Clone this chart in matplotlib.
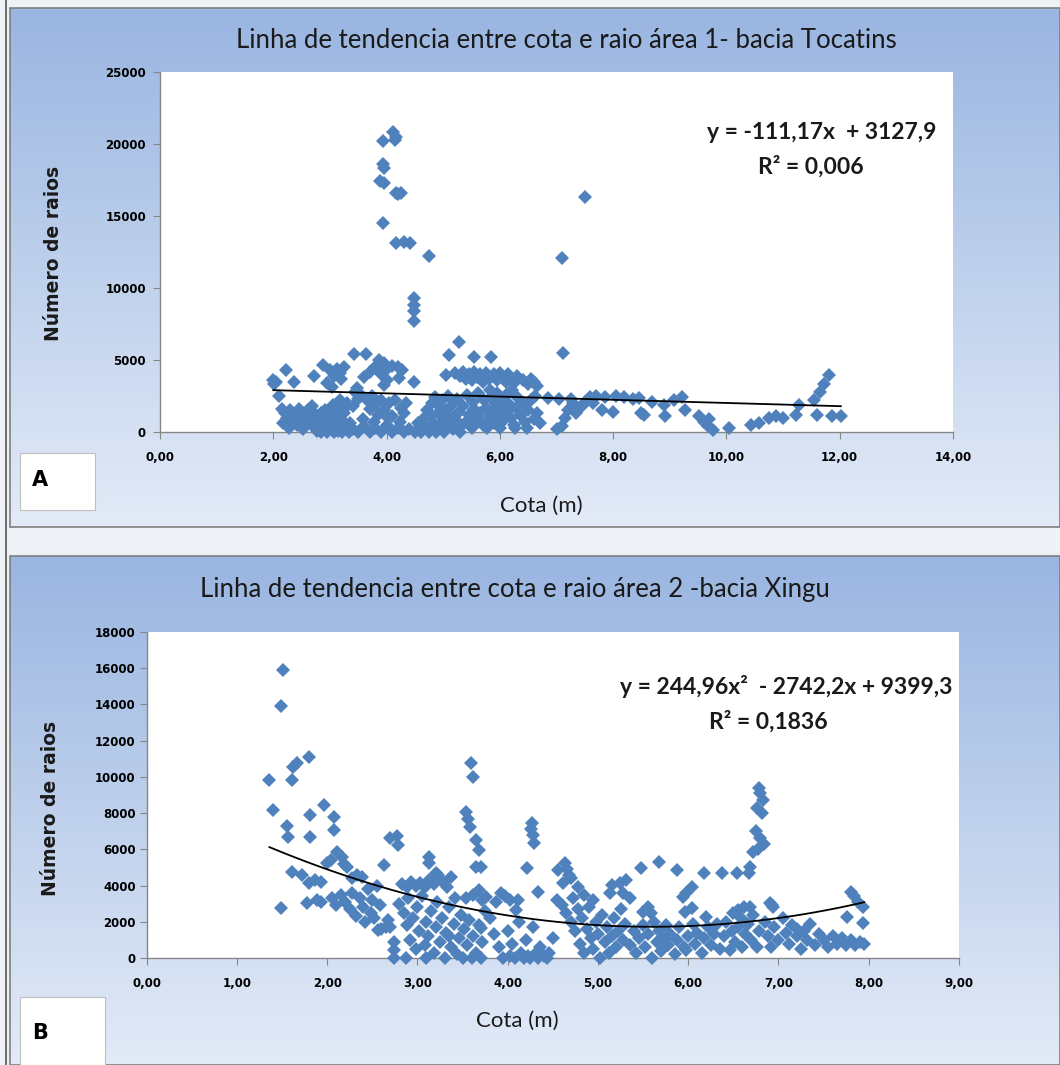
import numpy as np
import matplotlib
matplotlib.use("Agg")
import matplotlib.pyplot as plt
from matplotlib.patches import Rectangle

# ---- painel A (bacia Tocantins): cota (m) x numero de raios
xa = [3.93, 4.12, 4.17, 4.15, 3.93, 3.95, 3.88, 3.95, 4.17, 4.25, 4.20, 3.93, 4.17, 4.30, 4.42, 4.75,
      4.48, 4.48, 4.48, 4.48, 7.51, 7.10, 7.11,
      2.00, 2.02, 2.05, 2.10, 2.22, 2.36, 2.72, 2.87, 2.95, 3.00, 3.04, 3.08, 3.12, 3.18, 3.25, 3.20,
      3.43, 3.63, 3.60, 3.48, 3.87, 3.96, 4.01, 4.10, 4.20, 4.28, 4.22, 4.01, 3.95, 4.49, 3.70, 3.80, 3.90,
      5.28, 5.11, 5.55, 5.85, 5.05,
      5.20, 5.30, 5.35, 5.40, 5.45, 5.50, 5.55, 5.60, 5.65, 5.70, 5.75, 5.80, 5.90, 5.95, 6.00, 6.05,
      6.10, 6.15, 6.20, 6.25, 6.30, 6.40, 6.50, 6.55, 6.60, 6.65,
      2.15, 2.20, 2.25, 2.30, 2.35, 2.40, 2.45, 2.50, 2.55, 2.60, 2.62, 2.65, 2.70, 2.72, 2.75, 2.78,
      2.80, 2.82, 2.85, 2.88, 2.90, 2.92, 2.95, 2.97, 3.00, 3.02, 3.05, 3.07, 3.10, 3.12, 3.15, 3.17,
      3.20, 3.22, 3.25, 3.28, 3.30, 3.33,
      3.55, 3.65, 3.75, 3.70, 3.80, 3.85, 3.90, 3.95, 4.05, 4.10, 4.15, 4.25, 4.30, 4.35, 3.45, 3.50, 3.40,
      3.40, 3.50, 3.60, 3.70, 3.80, 3.90, 4.00, 4.10, 4.20, 4.30, 4.40, 4.50, 4.55, 4.60,
      4.65, 4.70, 4.72, 4.75, 4.78, 4.80, 4.82, 4.85, 4.88, 4.90, 4.92, 4.95, 4.98, 5.00, 5.02, 5.05,
      5.08, 5.10, 5.12, 5.15, 5.18,
      5.22, 5.25, 5.28, 5.30, 5.35, 5.40, 5.42, 5.45, 5.50, 5.52, 5.55, 5.60, 5.62, 5.65, 5.70, 5.72,
      5.75, 5.80, 5.82, 5.85, 5.88, 5.90, 5.92, 5.95, 5.98, 6.00, 6.02, 6.05, 6.08, 6.10, 6.12, 6.15,
      6.20, 6.22, 6.25, 6.28, 6.30, 6.35, 6.40, 6.45, 6.50, 6.55, 6.60, 6.65, 6.70,
      6.85, 7.05, 7.25, 7.15, 7.20, 7.30, 7.35, 7.45, 7.50, 7.09, 7.60, 7.70, 7.80, 7.85, 8.00, 8.05,
      8.20, 8.35, 8.45, 8.50, 7.65, 7.00,
      8.54, 8.68, 8.89, 8.92, 9.07, 9.22, 9.27, 9.51, 9.60, 9.68, 9.77, 10.04, 10.43, 10.57, 10.75,
      10.87, 10.99, 11.22, 11.28, 11.55, 11.65, 11.72, 11.81, 11.60, 11.87, 12.02, 9.70,
      2.18, 2.28, 2.42, 2.52, 2.68, 2.84, 2.98, 3.14, 3.26, 3.36, 3.58, 3.78, 4.02, 4.24, 4.62, 4.84,
      5.06, 5.32, 5.58, 5.78, 6.04, 6.26, 6.48, 6.62]
ya = [20200, 20800, 20500, 20300, 18600, 18300, 17400, 17300, 16600, 16600, 16500, 14500, 13100, 13200, 13100, 12200,
      9300, 8800, 8400, 7700, 16300, 12100, 5500,
      3600, 3300, 3500, 2500, 4300, 3500, 3900, 4650, 3400, 4300, 3150, 3900, 4400, 4100, 4500, 3700,
      5450, 5450, 3840, 3040, 5000, 4770, 4400, 4600, 4500, 4300, 3730, 3600, 3270, 3500, 4200, 4500, 4000,
      6260, 5340, 5220, 5220, 3960,
      4100, 3900, 4200, 3700, 4000, 3600, 4200, 3800, 4000, 3500, 4100, 3700, 4000, 3600, 4100, 3800,
      3500, 4000, 3700, 3400, 3900, 3600, 3300, 3700, 3500, 3200,
      1600, 1300, 1000, 1500, 800, 1200, 1600, 900, 1300, 600, 1500, 1000, 400, 1300, 800, 100,
      1100, 500, 0, 900, 300, 1500, 0, 700, 1200, 200, 1900, 0, 600, 1500, 100, 2200,
      900, 0, 1300, 500, 2000, 0,
      2600, 2200, 2500, 1600, 1900, 1200, 2200, 1500, 2000, 1100, 2200, 1700, 1300, 2000, 2800, 2300, 1800,
      200, 0, 400, 0, 300, 0, 500, 0, 300, 0, 200, 0, 600, 0,
      900, 300, 1500, 0, 1100, 2000, 600, 2400, 0, 1300, 1800, 400, 2200, 900, 0, 1500,
      2500, 500, 1100, 1900, 200,
      800, 2300, 1400, 0, 1800, 700, 2600, 1200, 300, 2100, 1600, 900, 2700, 1300, 500, 2200,
      1700, 1000, 2900, 2400, 1500, 600, 2000, 2700, 1200, 300, 2300, 1700, 800, 2600, 1400, 2000,
      1000, 2900, 500, 1700, 2400, 1200, 2000, 700, 1500, 2200, 900, 1300, 600,
      2350, 2300, 2300, 1000, 1500, 2000, 1300, 1800, 2100, 400, 2400, 2500, 1540, 2400, 1420, 2500,
      2400, 2300, 2350, 1300, 2000, 200,
      1190, 2110, 1890, 1080, 2230, 2460, 1540, 1080, 700, 400, 160, 280, 500, 620, 990,
      1080, 990, 1190, 1890, 2230, 2800, 3300, 3960, 1190, 1080, 1080, 900,
      600, 300, 500, 200, 1800, 1300, 400, 900, 1700, 600, 900, 700, 1000, 700, 200, 500,
      1100, 400, 600, 300, 1000, 300, 300, 2500]

# ---- painel B (bacia Xingu)
xb = [1.51, 1.49, 1.36, 1.40, 1.49, 1.56, 1.57, 1.62, 1.67, 1.80, 1.61, 1.81, 1.81, 1.96, 2.07, 2.07,
      1.61, 1.72, 1.80, 1.87, 1.93, 1.78, 1.89, 1.93, 2.00, 2.04, 2.11, 2.16, 2.19, 2.22, 2.28, 2.33, 2.39,
      2.05, 2.10, 2.15, 2.20, 2.25, 2.28, 2.32, 2.36, 2.40, 2.42, 2.45, 2.48, 2.50, 2.52, 2.55, 2.58,
      2.60, 2.63, 2.70, 2.77, 2.78, 2.56, 2.65, 2.70, 2.67, 2.74, 2.74, 2.74, 2.87,
      2.83, 2.88, 2.93, 2.98, 3.03, 3.08, 3.13, 3.18, 3.23, 3.28, 3.33, 3.37, 3.13, 3.13, 3.20,
      2.80, 2.85, 2.88, 2.90, 2.92, 2.95, 2.98, 3.00, 3.02, 3.05, 3.08, 3.09, 3.10, 3.12, 3.15, 3.18,
      3.20, 3.22, 3.25, 3.27, 3.30, 3.32, 3.35, 3.37, 3.40, 3.42, 3.44, 3.46, 3.48, 3.50, 3.52, 3.55,
      3.57, 3.60, 3.62, 3.65, 3.68, 3.70, 3.72, 3.75, 3.35,
      3.59, 3.61, 3.54, 3.56, 3.58, 3.65, 3.68, 3.65, 3.70, 3.68, 3.76, 3.70, 3.54, 3.62, 3.72,
      3.87, 3.92, 3.97, 4.02, 4.09, 3.80, 3.85, 3.90, 3.95, 4.00, 4.02, 4.05, 4.08, 4.12, 4.15, 4.18,
      4.20, 4.22, 4.25, 4.28, 4.30, 4.33, 4.36, 4.40, 4.43, 4.46, 4.50,
      4.27, 4.26, 4.28, 4.29, 4.21, 4.33, 4.11,
      4.56, 4.63, 4.66, 4.68, 4.61, 4.70, 4.78, 4.85, 4.95, 5.13, 4.55, 4.60, 4.65, 4.70, 4.72, 4.75,
      4.78, 4.80, 4.82, 4.85, 4.88, 4.90, 4.92, 4.95, 4.98, 5.00, 5.02, 5.05, 5.08, 5.10, 5.12, 5.15,
      5.24, 5.31, 5.28, 5.35, 5.15, 5.18, 5.20, 5.22, 5.25, 5.28, 5.30,
      5.48, 5.68, 5.87, 5.50, 5.55, 5.59, 5.96, 6.04, 6.20, 6.04, 5.98, 5.94, 6.18, 6.37, 6.54, 6.67,
      6.68, 6.50, 6.55, 6.62, 6.68,
      5.35, 5.40, 5.42, 5.45, 5.50, 5.52, 5.55, 5.60, 5.62, 5.65, 5.68, 5.70, 5.72, 5.75, 5.78, 5.80,
      5.85, 5.88, 5.90, 5.95, 5.98, 6.00, 6.05, 6.08, 6.10, 6.15, 6.18, 6.22, 6.25, 6.28, 6.32, 6.35,
      6.40, 6.42, 6.46, 6.48, 6.52, 6.55, 6.58, 6.60, 6.63, 6.66, 6.70, 6.72, 6.76, 6.78,
      6.78, 6.80, 6.83, 6.76, 6.82, 6.75, 6.80, 6.84, 6.77, 6.72,
      6.91, 6.94, 6.93, 6.85, 6.88, 6.92, 6.95, 7.00, 7.05, 7.08, 7.12, 7.15, 7.20, 7.25, 7.28, 7.32,
      7.35, 7.40, 7.45, 7.50, 7.55, 7.60, 7.65, 7.70, 7.75, 7.80, 7.84, 7.88, 7.94, 7.76, 7.94, 7.80,
      7.85, 7.90, 7.95, 7.20]
yb = [15900, 13900, 9830, 8170, 2740, 7300, 6700, 10560, 10750, 11080, 9830, 7900, 6700, 8450, 7800, 7070,
      4760, 4580, 4140, 4300, 4200, 3040, 3200, 3100, 5230, 5400, 5870, 5600, 5200, 5040, 4400, 4580, 4450,
      3300, 2900, 3500, 3100, 2700, 3600, 2300, 3300, 2800, 2000, 3800, 2500, 3200, 2200, 4000, 2900,
      1600, 5130, 6600, 6750, 6250, 1550, 1700, 1730, 2100, 900, 460, 0, 0,
      4100, 3900, 4200, 4000, 4150, 3900, 4300, 4100, 4600, 4200, 3900, 4500, 5590, 5230, 4700,
      3000, 2500, 1800, 3300, 1000, 2200, 500, 2800, 1500, 3400, 700, 0, 2000, 1200, 2600, 300,
      1700, 3100, 900, 2200, 0, 1400, 2800, 600, 1900, 3300, 200, 1100, 2400, 0, 1600, 700,
      2100, 0, 1200, 300, 1800, 0, 900, 2600, 1200,
      10750, 10010, 8080, 7700, 7250, 6510, 5960, 5040, 5040, 3760, 3380, 1640, 3300, 3480, 3200,
      3100, 3590, 3400, 3200, 2650, 2200, 1300, 600, 0, 1500, 100, 800, 0, 2000, 300, 0,
      1000, 100, 0, 1700, 200, 0, 600, 100, 0, 300, 1100,
      7450, 7100, 6800, 6350, 4950, 3660, 3200,
      4860, 5230, 4900, 4600, 4140, 4400, 3940, 3500, 3200, 3600, 3200, 2900, 2500, 2000, 3300, 1500,
      2700, 800, 2200, 300, 1600, 2800, 1100, 500, 2000, 1300, 0, 2400, 900, 1700, 300, 4030,
      4140, 4300, 3590, 3300, 1200, 2200, 600, 1500, 2700, 1000, 1900,
      4950, 5320, 4860, 2560, 2830, 2470, 2560, 2740, 2280, 3940, 3590, 3380, 4700, 4700, 4680, 4680,
      5040, 2480, 2650, 2800, 2830,
      700, 1500, 300, 1100, 1800, 600, 1300, 0, 2000, 900, 1500, 400, 1100, 1800, 700, 1300,
      200, 1000, 1700, 600, 440, 1200, 1900, 800, 1400, 300, 1100, 1700, 700, 1300, 1900, 500,
      1200, 2000, 440, 1500, 900, 1700, 2200, 600, 1300, 1900, 1000, 2400, 620, 1500,
      9380, 9100, 8700, 8300, 8000, 7000, 6600, 6300, 6000, 5870,
      3020, 2830, 2900, 2000, 1200, 600, 1700, 1000, 2200, 1400, 800, 1800, 1200, 500, 1500, 1000,
      1900, 700, 1300, 1000, 600, 1200, 800, 1100, 700, 3660, 3400, 3100, 2830, 2280, 1910, 1000,
      700, 900, 800, 1600]

# linhas de tendencia (coeficientes mostrados no grafico)
lin_a = (-111.17, 3127.9)
poly_b = (244.96, -2742.2, 9399.3)

xt_a = [0, 2, 4, 6, 8, 10, 12, 14]
xt_b = [0, 1, 2, 3, 4, 5, 6, 7, 8, 9]
yt_a = [0, 5000, 10000, 15000, 20000, 25000]
yt_b = list(range(0, 18001, 2000))

W, H = 1060, 1065
AZUL = "#4F81BD"
CINZA = "#868686"
FONTE = "Lato"
TXT = "#1a1a1a"


def fx(px):
    return px / W


def fy(py):
    return 1 - py / H


fig = plt.figure(figsize=(10.6, 10.65), dpi=100)

# fundo estilo Excel
bg = fig.add_axes([0, 0, 1, 1], zorder=-5)
bg.axis("off")
bg.add_patch(Rectangle((0, 0), W, H, color="#eef1f6", zorder=-2))
g = np.linspace(0, 1, 256)[:, None, None]
topo = np.array([0.60, 0.71, 0.88])
base = np.array([0.89, 0.92, 0.97])
grad = topo + (base - topo) * g
bg.imshow(grad, extent=(10, W, 527, 8), aspect="auto", zorder=-1)
bg.imshow(grad, extent=(10, W, H, 556), aspect="auto", zorder=-1)
bg.add_patch(Rectangle((10, 8), W - 10, 519, fill=False, ec="#7f7f7f", lw=1.2))
bg.add_patch(Rectangle((10, 556), W - 10, H - 556, fill=False, ec="#7f7f7f", lw=1.2))
bg.plot([6, 6], [0, H], color="#555555", lw=1.2)
bg.add_patch(Rectangle((20, 453), 75, 57, fc="white", ec="#bfbfbf", lw=0.8))
bg.add_patch(Rectangle((20, 997), 85, 68, fc="white", ec="#bfbfbf", lw=0.8))
bg.set_xlim(0, W)
bg.set_ylim(H, 0)


def painel(ret, x, y, xt, yt, xmax, ymax, ypad):
    ax = fig.add_axes(ret)
    ax.set_facecolor("white")
    ax.plot(x, y, "D", color=AZUL, ms=7.4, mew=0, zorder=2, clip_on=False)
    ax.set_xlim(0, xmax)
    ax.set_ylim(0, ymax)
    ax.set_xticks(xt)
    ax.set_xticklabels([f"{v:.2f}".replace(".", ",") for v in xt])
    ax.set_yticks(yt)
    ax.set_yticklabels([str(v) for v in yt])
    for s in ["top", "right"]:
        ax.spines[s].set_visible(False)
    for s in ["left", "bottom"]:
        ax.spines[s].set_color(CINZA)
        ax.spines[s].set_linewidth(1.0)
        ax.spines[s].set_zorder(1)
    ax.tick_params(axis="both", direction="out", length=5, color=CINZA, labelsize=8.5)
    ax.tick_params(axis="x", pad=9)
    ax.tick_params(axis="y", pad=ypad)
    for lb in ax.get_xticklabels() + ax.get_yticklabels():
        lb.set_fontweight("bold")
    return ax


axA = painel([fx(160), fy(432), fx(953) - fx(160), fy(72) - fy(432)],
             xa, ya, xt_a, yt_a, 14, 25000, 5)
tA = np.linspace(min(xa), max(xa), 50)
axA.plot(tA, lin_a[0] * tA + lin_a[1], color="black", lw=1.3, zorder=3)

axB = painel([fx(146.7), fy(958), fx(959) - fx(146.7), fy(632) - fy(958)],
             xb, yb, xt_b, yt_b, 9, 18000, 3)
tB = np.linspace(min(xb), max(xb), 80)
axB.plot(tB, np.polyval(poly_b, tB), color="black", lw=1.3, zorder=3)

# textos
fig.text(fx(566), fy(41), "Linha de tendencia entre cota e raio área 1- bacia Tocatins",
         ha="center", va="center", fontsize=18.5, family=FONTE, color=TXT)
fig.text(fx(515), fy(590), "Linha de tendencia entre cota e raio área 2 -bacia Xingu",
         ha="center", va="center", fontsize=18.5, family=FONTE, color=TXT)
fig.text(fx(541), fy(506), "Cota (m)", ha="center", va="center", fontsize=16,
         family=FONTE, color=TXT)
fig.text(fx(517), fy(1021), "Cota (m)", ha="center", va="center", fontsize=16,
         family=FONTE, color=TXT)
fig.text(fx(54), fy(253), "Número de raios", rotation=90, ha="center", va="center",
         fontsize=13.5, fontweight="bold", color=TXT)
fig.text(fx(51), fy(808), "Número de raios", rotation=90, ha="center", va="center",
         fontsize=13.5, fontweight="bold", color=TXT)
fig.text(fx(936), fy(132), "y = -111,17x  + 3127,9", ha="right", va="center",
         fontsize=16.5, family=FONTE, fontweight="bold", color=TXT)
fig.text(fx(811), fy(167), "R² = 0,006", ha="center", va="center",
         fontsize=16.5, family=FONTE, fontweight="bold", color=TXT)
fig.text(fx(953), fy(687), "y = 244,96x²  - 2742,2x + 9399,3", ha="right", va="center",
         fontsize=16.5, family=FONTE, fontweight="bold", color=TXT)
fig.text(fx(768), fy(722), "R² = 0,1836", ha="center", va="center",
         fontsize=16.5, family=FONTE, fontweight="bold", color=TXT)
fig.text(fx(40), fy(480), "A", ha="center", va="center", fontsize=15, fontweight="bold")
fig.text(fx(40), fy(1033), "B", ha="center", va="center", fontsize=15, fontweight="bold")

fig.savefig("out.png", dpi=100)
